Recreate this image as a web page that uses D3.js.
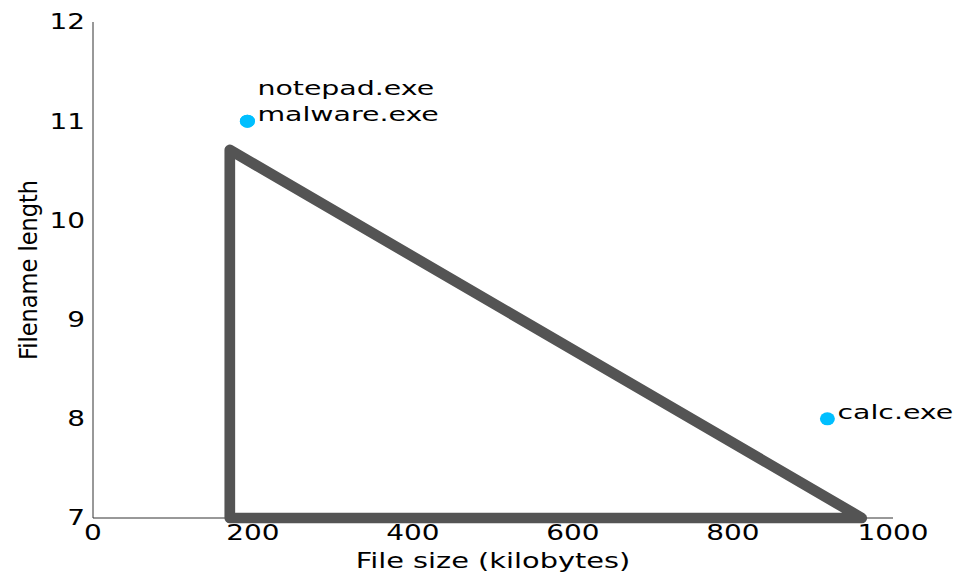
<!DOCTYPE html>
<html><head><meta charset="utf-8">
<script src="https://cdn.jsdelivr.net/npm/d3@7"></script>
<style>body{margin:0;background:#fff}svg{display:block}text{font-family:"DejaVu Sans";fill:#000}</style>
</head><body>
<svg id="c" width="958" height="575"></svg>
<script>
const xDomain = [0, 1000];
const yDomain = [7, 12];
const xTicks = [0, 200, 400, 600, 800, 1000];
const yTicks = [7, 8, 9, 10, 11, 12];
const pointNames = ["notepad.exe", "malware.exe", "calc.exe"];
const pointSize = [193, 193, 918];
const pointLen = [11, 11, 8];
const labelRow = [1, 0, 0];
const boundaryX = [171, 171, 961, 171];
const boundaryY = [10.71, 7, 7, 10.71];
const xTitle = "File size (kilobytes)";
const yTitle = "Filename length";

const svg = d3.select("#c");
const x = d3.scaleLinear().domain(xDomain).range([93, 893]);
const y = d3.scaleLinear().domain(yDomain).range([518, 22]);

// axes lines
svg.append("line").attr("x1", x(0)).attr("x2", x(1000)).attr("y1", y(7)).attr("y2", y(7)).attr("stroke", "#333").attr("stroke-width", 1);
svg.append("line").attr("x1", x(0)).attr("x2", x(0)).attr("y1", y(7)).attr("y2", y(12)).attr("stroke", "#333").attr("stroke-width", 1);

const sxTick = 1.33;
svg.selectAll(".xt").data(xTicks).enter().append("text")
  .attr("transform", d => `translate(${x(d)},540) scale(${sxTick},1)`)
  .attr("text-anchor", "middle").attr("font-size", 21).text(d => d);
svg.selectAll(".yt").data(yTicks).enter().append("text")
  .attr("transform", d => `translate(85,${y(d)}) scale(${sxTick},1)`)
  .attr("dy", "0.35em")
  .attr("text-anchor", "end").attr("font-size", 21).text(d => d);

// titles
svg.append("text").attr("transform", `translate(${(x(0)+x(1000))/2},568) scale(1.31,1)`)
  .attr("text-anchor", "middle").attr("font-size", 22).text(xTitle);
svg.append("text").attr("transform", `translate(37,${(y(7)+y(12))/2}) rotate(-90) scale(1,1.1)`)
  .attr("text-anchor", "middle").attr("font-size", 22.5).text(yTitle);

// boundary triangle
const pts = boundaryX.map((d, i) => [x(d), y(boundaryY[i])]);
svg.append("path").attr("d", d3.line()(pts) + "Z")
  .attr("fill", "none").attr("stroke", "#545454").attr("stroke-width", 10.7)
  .attr("stroke-linejoin", "round").attr("stroke-linecap", "round");

// points
const data = pointNames.map((n, i) => ({n, s: pointSize[i], l: pointLen[i], r: labelRow[i]}));
svg.selectAll(".pt").data(data).enter().append("ellipse")
  .attr("cx", d => x(d.s)).attr("cy", d => y(d.l)).attr("rx", 7.5).attr("ry", 6.5)
  .attr("fill", "#00bfff");
svg.selectAll(".pl").data(data).enter().append("text")
  .attr("transform", d => `translate(${x(d.s) + 10},${y(d.l) - d.r * 26}) scale(1.42,1)`)
  .attr("font-size", 20).text(d => d.n);
</script>
</body></html>
